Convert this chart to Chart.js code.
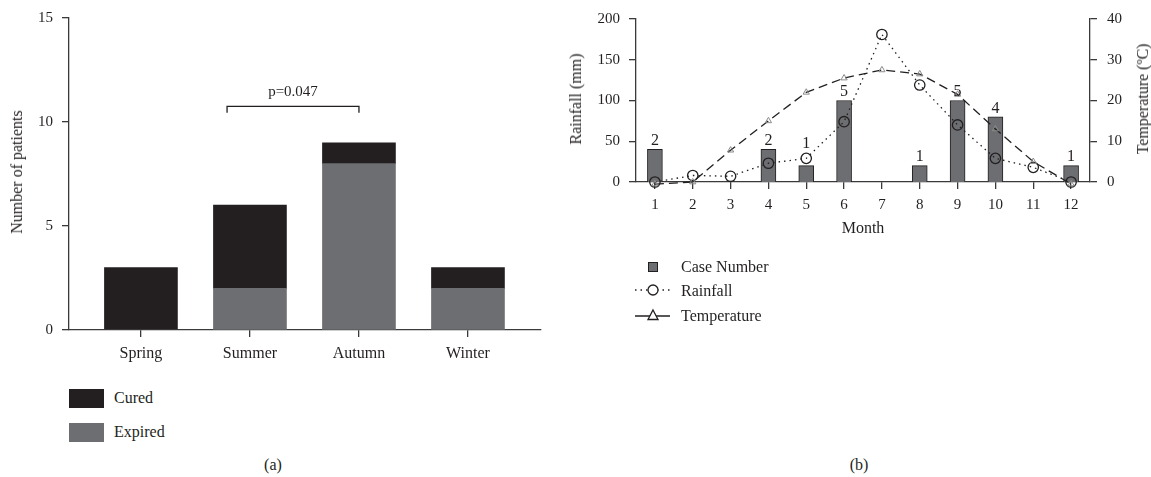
<!DOCTYPE html>
<html>
<head>
<meta charset="utf-8">
<script src="https://cdn.jsdelivr.net/npm/chart.js@4"></script>
<style>
  html, body { margin:0; padding:0; background:#fff; }
  body { width:1151px; height:477px; position:relative; overflow:hidden;
         font-family:'Liberation Serif','DejaVu Serif',serif; color:#231f20; }
  .abs { position:absolute; white-space:nowrap; line-height:1; }
  .rot { transform:translate(-50%,-50%) rotate(-90deg); }
  .ctr { transform:translate(-50%,-50%); }
  .lbl { font-size:16px; }
</style>
</head>
<body>
<div id="wrapA" class="abs" style="left:0;top:0;width:560px;height:370px;"><canvas id="chartA"></canvas></div>
<div id="wrapB" class="abs" style="left:560px;top:0;width:591px;height:250px;"><canvas id="chartB"></canvas></div>

<div class="abs rot lbl" style="left:17px;top:172px;">Number of patients</div>
<div class="abs rot lbl" style="left:576px;top:99px;">Rainfall (mm)</div>
<div class="abs rot lbl" style="left:1143px;top:99px;">Temperature (ºC)</div>
<div class="abs ctr lbl" style="left:863px;top:228px;">Month</div>

<!-- legend (a) -->
<div class="abs" style="left:69px;top:389px;width:35px;height:19px;background:#231f20;"></div>
<div class="abs lbl" style="left:114px;top:390px;">Cured</div>
<div class="abs" style="left:69px;top:423px;width:35px;height:19px;background:#6d6e71;"></div>
<div class="abs lbl" style="left:114px;top:424px;">Expired</div>
<div class="abs ctr lbl" style="left:273px;top:465px;">(a)</div>

<!-- legend (b) -->
<svg class="abs" style="left:630px;top:255px;" width="45" height="72" viewBox="0 0 45 72">
  <rect x="18.5" y="7.5" width="9" height="9" fill="#6d6e71" stroke="#231f20" stroke-width="1"/>
  <line x1="5" y1="35" x2="40" y2="35" stroke="#231f20" stroke-width="1.3" stroke-dasharray="1.5,4"/>
  <circle cx="23" cy="35" r="5" fill="#fff" stroke="#231f20" stroke-width="1.3"/>
  <line x1="5" y1="61" x2="40" y2="61" stroke="#231f20" stroke-width="1.3"/>
  <polygon points="23,55 28,64.5 18,64.5" fill="#fff" stroke="#231f20" stroke-width="1.3"/>
</svg>
<div class="abs lbl" style="left:681px;top:259px;">Case Number</div>
<div class="abs lbl" style="left:681px;top:283px;">Rainfall</div>
<div class="abs lbl" style="left:681px;top:308px;">Temperature</div>
<div class="abs ctr lbl" style="left:859px;top:465px;">(b)</div>

<script>
// ---------- data (a) ----------
const seasons = ['Spring', 'Summer', 'Autumn', 'Winter'];
const cured   = [3, 4, 1, 1];
const expired = [0, 2, 8, 2];
const pValueText = 'p=0.047';

// ---------- data (b) ----------
const months      = ['1','2','3','4','5','6','7','8','9','10','11','12'];
const caseNumber  = [2, 0, 0, 2, 1, 5, 0, 1, 5, 4, 0, 1];
const rainfall    = [0, 8, 7, 23, 29, 74, 181, 119, 70, 29, 18, 0];
const temperature = [-0.5, 0, 7.8, 15, 22, 25.5, 27.5, 26.5, 21.5, 13, 5, -0.5];

const FONT = "'Liberation Serif','DejaVu Serif',serif";
const INK = '#231f20';
const AXIS = '#3a3a3a';
const GREY = '#6d6e71';
Chart.defaults.font.family = FONT;
Chart.defaults.color = INK;
Chart.defaults.animation = false;

const axisGrid = { display:true, drawOnChartArea:false, drawTicks:true, tickLength:7, color:AXIS, lineWidth:1.3, offset:false };
const axisBorder = { display:true, color:AXIS, width:1.3 };

// ---------- chart (a) ----------
const bracketPlugin = {
  id:'bracket',
  afterDatasetsDraw(chart) {
    const {ctx, scales:{x, y}} = chart;
    const x1 = x.getPixelForValue(0.79), x2 = x.getPixelForValue(2);
    const yb = y.getPixelForValue(10.75), yt = y.getPixelForValue(10.45);
    ctx.save();
    ctx.strokeStyle = INK; ctx.lineWidth = 1.3;
    ctx.beginPath();
    ctx.moveTo(x1, yt); ctx.lineTo(x1, yb); ctx.lineTo(x2, yb); ctx.lineTo(x2, yt);
    ctx.stroke();
    ctx.fillStyle = INK; ctx.font = '15px ' + FONT;
    ctx.textAlign = 'center'; ctx.textBaseline = 'middle';
    ctx.fillText(pValueText, (x1 + x2) / 2, y.getPixelForValue(11.45));
    ctx.restore();
  }
};

new Chart(document.getElementById('chartA'), {
  type:'bar',
  data:{
    datasets:[
      { label:'Expired', data:expired.map((v,i)=>({x:i, y:v})), backgroundColor:GREY, borderWidth:0, barThickness:73 },
      { label:'Cured',   data:cured.map((v,i)=>({x:i, y:v})),   backgroundColor:INK,  borderWidth:0, barThickness:73 }
    ]
  },
  options:{
    responsive:true, maintainAspectRatio:false,
    layout:{ padding:{ top:15, right:19, left:0, bottom:0 } },
    plugins:{ legend:{display:false}, tooltip:{enabled:false} },
    scales:{
      x:{
        type:'linear', stacked:true, min:-0.66, max:3.67, offset:false,
        grid:axisGrid, border:axisBorder,
        afterBuildTicks(s){ s.ticks = seasons.map((_,i)=>({value:i})); },
        afterFit(s){ s.height = 40; },
        ticks:{ padding:7, font:{size:16}, color:INK, callback:(v)=>seasons[v] ?? '' }
      },
      y:{
        stacked:true, min:0, max:15,
        grid:axisGrid, border:axisBorder,
        afterFit(s){ s.width = 69; },
        ticks:{ stepSize:5, padding:9, font:{size:15}, color:INK }
      }
    }
  },
  plugins:[bracketPlugin]
});

// ---------- chart (b) ----------
const barLabelPlugin = {
  id:'barLabels',
  afterDatasetsDraw(chart) {
    const bars = chart.getDatasetMeta(0).data;
    const pts = chart.getDatasetMeta(1).data;
    const {ctx} = chart;
    ctx.save();
    ctx.fillStyle = INK; ctx.font = '16px ' + FONT;
    ctx.textAlign = 'center'; ctx.textBaseline = 'bottom';
    bars.forEach((el, i) => {
      if (caseNumber[i] <= 0) return;
      let base = el.y - 0.5;
      const p = pts[i];
      // lift the label above a rainfall marker sitting just over the bar
      if (p && p.y < el.y && p.y > el.y - 22) base = Math.min(base, p.y - 6.5);
      ctx.fillText(String(caseNumber[i]), el.x, base);
    });
    ctx.restore();
  }
};

new Chart(document.getElementById('chartB'), {
  type:'bar',
  data:{
    labels:months,
    datasets:[
      { type:'bar', label:'Case Number', data:caseNumber, yAxisID:'yCase',
        backgroundColor:GREY, borderColor:INK, borderWidth:1, barThickness:15, order:3 },
      { type:'line', label:'Rainfall', data:rainfall, yAxisID:'y',
        borderColor:INK, borderWidth:1.3, borderDash:[1.5,4], fill:false, tension:0,
        pointStyle:'circle', pointRadius:5.2, pointBorderColor:INK, pointBorderWidth:1.3,
        pointBackgroundColor:'rgba(0,0,0,0)', clip:false, order:2 },
      { type:'line', label:'Temperature', data:temperature, yAxisID:'y2',
        borderColor:INK, borderWidth:1.3, borderDash:[9,5], fill:false, tension:0,
        pointStyle:'triangle', pointRadius:3.6, pointBorderColor:'#8a8a8a', pointBorderWidth:1,
        pointBackgroundColor:'rgba(0,0,0,0)', clip:false, order:1 }
    ]
  },
  options:{
    responsive:true, maintainAspectRatio:false,
    layout:{ padding:{ top:16, right:0, left:0, bottom:0 } },
    plugins:{ legend:{display:false}, tooltip:{enabled:false} },
    scales:{
      x:{
        offset:true,
        grid:axisGrid, border:axisBorder,
        afterFit(s){ s.height = 68; },
        ticks:{ padding:7, font:{size:15}, color:INK, maxRotation:0, autoSkip:false }
      },
      y:{
        position:'left', min:0, max:200,
        grid:axisGrid, border:axisBorder,
        afterFit(s){ s.width = 76; },
        ticks:{ stepSize:50, padding:9, font:{size:15}, color:INK }
      },
      y2:{
        position:'right', min:0, max:40,
        grid:axisGrid, border:axisBorder,
        afterFit(s){ s.width = 61; },
        ticks:{ stepSize:10, padding:10, font:{size:15}, color:INK }
      },
      yCase:{ display:false, min:0, max:10 }
    }
  },
  plugins:[barLabelPlugin]
});
</script>
</body>
</html>
